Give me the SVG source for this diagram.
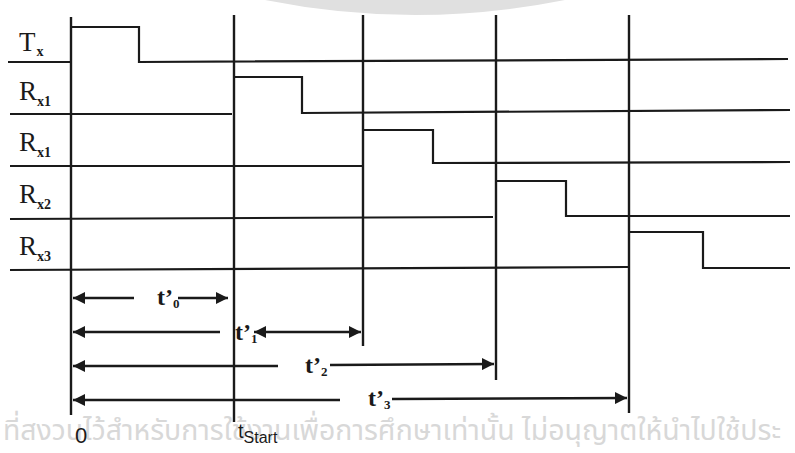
<svg xmlns="http://www.w3.org/2000/svg" width="795" height="453" viewBox="0 0 795 453">
<defs>
<style>
.sig{fill:none;stroke:#1a1a1a;stroke-width:2.2;stroke-linejoin:miter}
.vl{stroke:#1a1a1a;stroke-width:2.4}
.ar{stroke:#1a1a1a;stroke-width:2.4;fill:none}
.lbl{font-family:"Liberation Serif","Times New Roman",serif;font-size:27px;fill:#1a1a1a}
.sub{font-size:14px;font-weight:bold}
.tl{font-family:"Liberation Serif","Times New Roman",serif;font-size:24px;font-weight:bold;fill:#1a1a1a}
.tsub{font-size:13px}
.ax{font-family:"Liberation Sans",Arial,sans-serif;fill:#1a1a1a}
.wm{font-family:"Noto Sans Thai","Noto Sans Thai Looped","Noto Sans","DejaVu Sans",sans-serif;font-size:29px;fill:#d8d8d8}
</style>
<marker id="ah" viewBox="0 0 10 10" refX="10" refY="5" markerWidth="5" markerHeight="5" orient="auto-start-reverse" markerUnits="strokeWidth">
<path d="M0,0 L10,5 L0,10 z" fill="#1a1a1a"/>
</marker>
</defs>
<rect width="795" height="453" fill="#ffffff"/>
<g id="watermark">
<path d="M265,0 Q415,30 565,0 Z" fill="#e0e0e0"/>
<text class="wm" x="3" y="440" textLength="778" lengthAdjust="spacingAndGlyphs">ที่สงวนไว้สำหรับการใช้งานเพื่อการศึกษาเท่านั้น ไม่อนุญาตให้นำไปใช้ประ</text>
</g>
<g id="labels">
<text class="lbl" x="19" y="51">T<tspan class="sub" dx="1" dy="5">x</tspan></text>
<text class="lbl" x="19" y="100">R<tspan class="sub" dy="6">x1</tspan></text>
<text class="lbl" x="19" y="151">R<tspan class="sub" dy="6">x1</tspan></text>
<text class="lbl" x="19" y="203">R<tspan class="sub" dy="6">x2</tspan></text>
<text class="lbl" x="19" y="255">R<tspan class="sub" dy="6">x3</tspan></text>
</g>
<g id="verticals">
<line class="vl" x1="71" y1="17" x2="71" y2="415"/>
<line class="vl" x1="234" y1="15" x2="234" y2="422"/>
<line class="vl" x1="363" y1="15" x2="363" y2="346"/>
<line class="vl" x1="496" y1="15" x2="496" y2="380"/>
<line class="vl" x1="629" y1="15" x2="629" y2="413"/>
</g>
<g id="signal-Tx">
<polyline class="sig" points="8,62 71,62"/>
<polyline class="sig" points="71,27 139,27 139,62 788,59"/>
</g>
<g id="signal-Rx1a">
<polyline class="sig" points="10,114 232,114"/>
<polyline class="sig" points="234,77 302,77 302,113 790,110"/>
</g>
<g id="signal-Rx1b">
<polyline class="sig" points="10,166 362,166"/>
<polyline class="sig" points="363,130 433,130 433,163 790,162"/>
</g>
<g id="signal-Rx2">
<polyline class="sig" points="10,219 493,217"/>
<polyline class="sig" points="496,181 566,181 566,216 790,216"/>
</g>
<g id="signal-Rx3">
<polyline class="sig" points="10,270 628,267"/>
<polyline class="sig" points="629,232 703,232 703,268 790,268"/>
</g>
<g id="connectors">
<line class="ar" x1="134" y1="298" x2="73" y2="298" marker-end="url(#ah)"/>
<line class="ar" x1="178" y1="298" x2="228" y2="298" marker-end="url(#ah)"/>
<line class="ar" x1="220" y1="332" x2="73" y2="332" marker-end="url(#ah)"/>
<line class="ar" x1="254" y1="332" x2="361" y2="332" marker-start="url(#ah)" marker-end="url(#ah)"/>
<line class="ar" x1="278" y1="366" x2="73" y2="366" marker-end="url(#ah)"/>
<line class="ar" x1="330" y1="365" x2="494" y2="364" marker-end="url(#ah)"/>
<line class="ar" x1="340" y1="400" x2="73" y2="400" marker-end="url(#ah)"/>
<line class="ar" x1="392" y1="399" x2="627" y2="398" marker-end="url(#ah)"/>
</g>
<g id="time-labels">
<text class="tl" x="157" y="305">t’<tspan class="tsub" dy="3">0</tspan></text>
<text class="tl" x="235" y="340">t’<tspan class="tsub" dy="3">1</tspan></text>
<text class="tl" x="305" y="373">t’<tspan class="tsub" dy="3">2</tspan></text>
<text class="tl" x="368" y="406">t’<tspan class="tsub" dy="3">3</tspan></text>
</g>
<g id="axis-labels">
<text class="ax" x="75" y="443" font-size="22">0</text>
<text class="ax" x="238" y="438" font-size="20">t<tspan font-size="16" dy="5">Start</tspan></text>
</g>
</svg>
